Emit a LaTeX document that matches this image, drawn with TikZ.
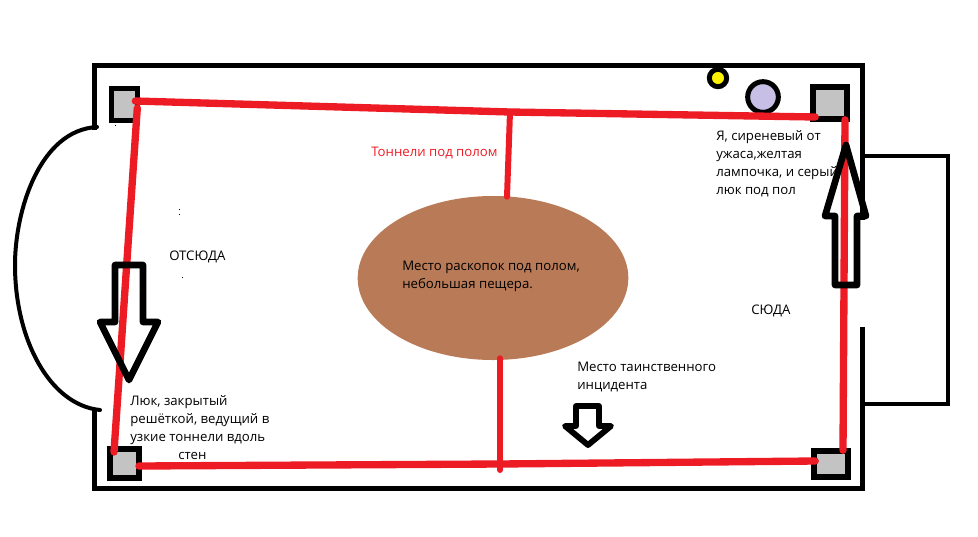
\documentclass[tikz,border=0pt]{standalone}
\usepackage{fontspec}
\setmainfont{Open Sans}
\usetikzlibrary{shapes.geometric,calc}
\definecolor{tunnelred}{HTML}{ED1C24}
\definecolor{hatchgray}{HTML}{C3C3C3}
\definecolor{cavebrown}{HTML}{B97A57}
\definecolor{lilac}{HTML}{C8BFE7}
\definecolor{lampyellow}{HTML}{FFF200}

\begin{document}
\begin{tikzpicture}[
  x=0.75pt, y=-0.75pt,
  font=\fontsize{9.9}{13.5}\selectfont,
  wall/.style={line width=3.75pt},
  thinwall/.style={line width=3pt, line cap=round},
  hatch/.style={draw, fill=hatchgray, line width=4.2pt, inner sep=0pt},
  tunnel/.style={draw=tunnelred, line width=5.5pt, line cap=round},
  bigarrow/.style={draw, line width=5pt, line join=round},
  lamp/.style={draw, circle, line width=3.75pt, inner sep=0pt},
  note/.style={anchor=west, align=left, inner sep=0pt}
]
\useasboundingbox (0,0) rectangle (978,536);

% room walls and the two side rooms
\draw[wall] (94.5,130) -- (94.5,65.5) -- (862.5,65.5) -- (862.5,220);
\draw[wall] (862.5,327) -- (862.5,488) -- (94.5,488) -- (94.5,410);
\draw[thinwall] (865,156) -- (948,156) -- (948,404) -- (865,404);
\draw[thinwall] (97,127) .. controls (40,130) and (15,210) .. (15,265)
  .. controls (15,340) and (50,405) .. (100,410);

\node[hatch, minimum width=19.5pt, minimum height=24pt] (hatchTL) at (124.5,104.5) {};
\node[hatch, minimum width=22pt, minimum height=22pt] (hatchBL) at (124.5,463.5) {};
\node[hatch, minimum width=25.5pt, minimum height=24pt] (hatchTR) at (830,103) {};
\node[hatch, minimum width=25.5pt, minimum height=19.5pt] (hatchBR) at (831,464) {};

\node[draw=none, fill=cavebrown, ellipse, minimum width=203pt, minimum height=123pt, inner sep=0pt] (cave) at (493,278) {};
\node[lamp, fill=lampyellow, minimum size=13pt] (bulb) at (718,78) {};
\node[lamp, fill=lilac, minimum size=23pt] (me) at (763,97) {};

\coordinate (topjoint) at (510,112);
\coordinate (botjoint) at (500,464);

\draw[tunnel] ([shift={(-5,-3.5)}]hatchTL.east) -- (topjoint) -- ([shift={(5,14)}]hatchTR.west);
\draw[tunnel] ([shift={(-3,2.5)}]hatchBL.east) -- (botjoint) -- ([shift={(4,-3)}]hatchBR.west);
\draw[tunnel] ([shift={(-3,3.5)}]hatchTL.east) -- ([shift={(-10.5,6)}]hatchBL.north);
\draw[tunnel] ([shift={(15,-2)}]hatchTR.south) -- ([shift={(12,2)}]hatchBR.north);
\draw[tunnel, line width=4.5pt] (topjoint) -- ([shift={(14,1)}]cave.north);
\draw[tunnel, line width=4.5pt] ([shift={(7,-2)}]cave.south) -- (500,470);

\draw[bigarrow] (115,265) -- (143,265) -- (143,322) -- (158,322) -- (129,380) -- (100,322) -- (115,322) -- cycle;
\draw[bigarrow] (835,285) -- (857,285) -- (857,216) -- (866,216) -- (846,145) -- (825,216) -- (835,216) -- cycle;
\draw[bigarrow, line width=4.4pt] (576,406) -- (599,406) -- (599,426) -- (611,426) -- (588,445) -- (565,426) -- (576,426) -- cycle;

% specks left on the floor
\foreach \px/\py in {179/209, 179/214, 182/277, 115/125}
  \fill (\px,\py) rectangle ++(1,1);

\node[note, text=tunnelred] (tunnels) at (371,153) {Тоннели под полом};
\node[note] (from) at (169,257) {ОТСЮДА};
\node[note] (to) at (751,311) {СЮДА};
\node[note] (cavetext) at (402,276) {Место раскопок под полом,\\небольшая пещера.};
\node[note] (incident) at (577,377) {Место таинственного\\инцидента};
\node[note] (hatchtext) at (130,428) {Люк, закрытый\\решёткой, ведущий в\\узкие тоннели вдоль\\\hspace*{36pt}стен};
\node[note] (metext) at (716,163.5) {Я, сиреневый от\\ужаса,желтая\\лампочка, и серый\\люк под пол};
\end{tikzpicture}
\end{document}
